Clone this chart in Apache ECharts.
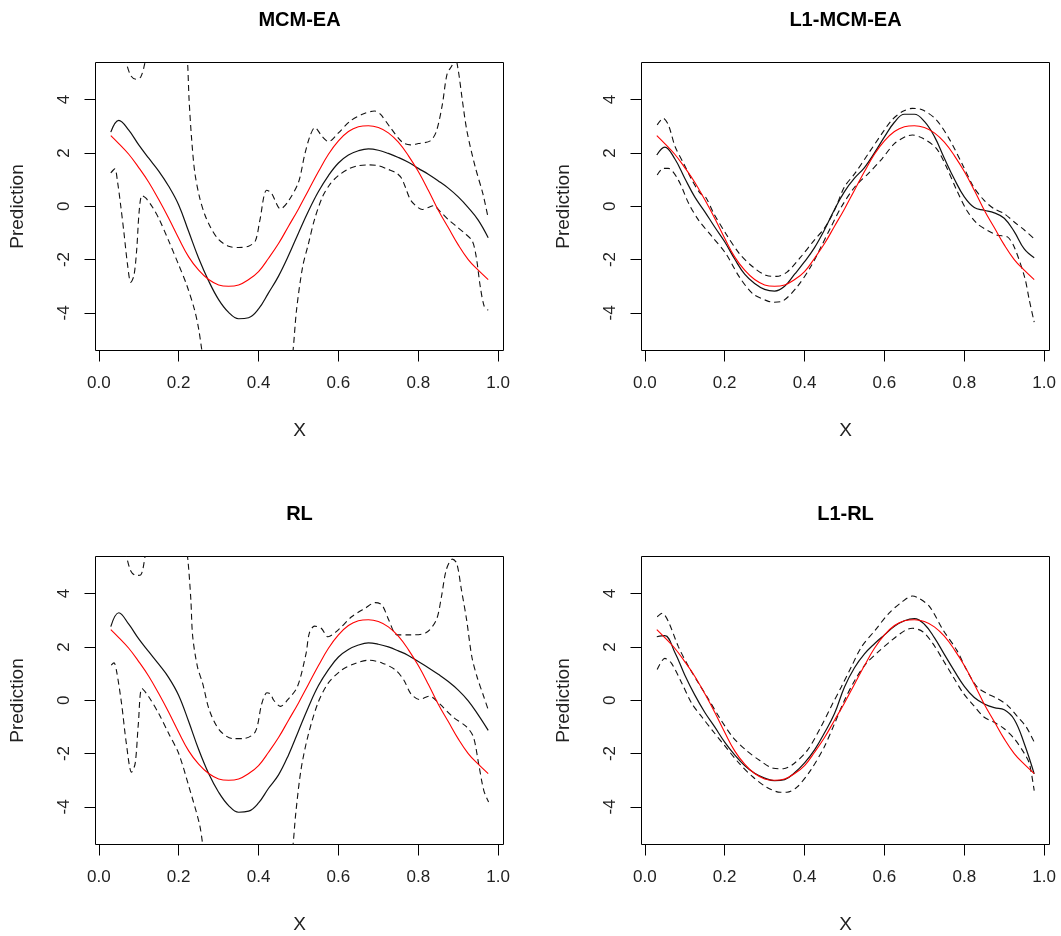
<!DOCTYPE html>
<html><head><meta charset="utf-8">
<script src="https://cdn.jsdelivr.net/npm/echarts@6/dist/echarts.min.js"></script>
<style>html,body{margin:0;padding:0;background:#fff}#c{width:1061px;height:936px}</style>
</head><body><div id="c"></div>
<script>
const panelTitles = ['MCM-EA', 'L1-MCM-EA', 'RL', 'L1-RL'];
const xTicks = [0, 0.2, 0.4, 0.6, 0.8, 1.0];
const yTicks = [-4, -2, 0, 2, 4];
const xGrid = [0.03, 0.05, 0.075, 0.1, 0.125, 0.15, 0.175, 0.2, 0.225, 0.25, 0.275, 0.3, 0.325, 0.35, 0.375, 0.4,
  0.425, 0.45, 0.475, 0.5, 0.525, 0.55, 0.575, 0.6, 0.625, 0.65, 0.675, 0.7, 0.725, 0.75, 0.775, 0.8,
  0.825, 0.85, 0.875, 0.9, 0.925, 0.95, 0.975];

// true function (red)
const truth = [2.65, 2.35, 1.95, 1.45, 0.90, 0.25, -0.45, -1.20, -1.90, -2.40, -2.75, -2.95, -3.00, -2.95, -2.75, -2.45,
  -1.95, -1.40, -0.75, -0.10, 0.60, 1.30, 1.95, 2.45, 2.80, 2.98, 3.02, 2.95, 2.75, 2.40, 1.90, 1.30,
  0.60, -0.15, -0.80, -1.45, -2.00, -2.40, -2.75];

// fitted curves (black solid)
const fitMcmEa = [2.78, 3.22, 2.85, 2.30, 1.80, 1.32, 0.75, 0.05, -0.95, -1.95, -2.80, -3.50, -3.98, -4.22, -4.18, -3.85,
  -3.25, -2.62, -1.85, -1.00, -0.18, 0.55, 1.15, 1.62, 1.92, 2.08, 2.15, 2.10, 1.98, 1.83, 1.65, 1.42,
  1.20, 0.95, 0.68, 0.35, -0.05, -0.52, -1.18];
const fitL1McmEa = [1.92, 2.22, 1.78, 1.05, 0.35, -0.20, -0.78, -1.33, -1.98, -2.55, -2.90, -3.12, -3.18, -3.00, -2.55, -2.08,
  -1.55, -0.88, -0.12, 0.55, 1.05, 1.45, 2.00, 2.60, 3.15, 3.45, 3.45, 3.18, 2.62, 1.80, 1.02, 0.35,
  -0.05, -0.15, -0.25, -0.45, -0.95, -1.60, -1.93];
const fitRl = [2.76, 3.28, 2.85, 2.30, 1.82, 1.35, 0.85, 0.18, -0.80, -1.85, -2.75, -3.45, -3.95, -4.20, -4.16, -3.85,
  -3.30, -2.80, -2.05, -1.15, -0.25, 0.55, 1.15, 1.62, 1.90, 2.07, 2.15, 2.10, 2.00, 1.85, 1.68, 1.45,
  1.22, 0.97, 0.70, 0.38, -0.02, -0.55, -1.13];
const fitL1Rl = [2.38, 2.42, 1.80, 0.95, 0.20, -0.45, -1.00, -1.57, -2.05, -2.45, -2.74, -2.92, -3.02, -2.98, -2.72, -2.35,
  -1.86, -1.22, -0.50, 0.50, 1.22, 1.74, 2.12, 2.45, 2.77, 2.98, 3.06, 2.85, 2.35, 1.72, 1.10, 0.52,
  0.10, -0.14, -0.28, -0.36, -0.72, -1.62, -2.76];

// confidence bands (dashed), [x, y]
const upMcmEa = [[0.03, 7.0], [0.05, 6.2], [0.068, 5.4], [0.08, 4.9], [0.093, 4.76], [0.105, 4.85], [0.115, 5.35], [0.13, 6.5],
  [0.16, 8.0], [0.2, 7.5], [0.22, 5.8], [0.226, 4.0], [0.232, 2.6], [0.24, 1.3], [0.252, 0.35], [0.265, -0.3], [0.28, -0.8],
  [0.3, -1.25], [0.325, -1.5], [0.35, -1.55], [0.375, -1.5], [0.392, -1.3], [0.403, -0.55], [0.42, 0.6], [0.432, 0.5],
  [0.455, -0.1], [0.475, 0.2], [0.5, 0.9], [0.515, 1.9], [0.528, 2.6], [0.541, 2.95], [0.56, 2.6], [0.575, 2.42],
  [0.6, 2.75], [0.63, 3.2], [0.66, 3.45], [0.69, 3.57], [0.705, 3.45], [0.73, 2.95], [0.76, 2.4], [0.78, 2.3],
  [0.8, 2.35], [0.83, 2.45], [0.845, 2.8], [0.86, 3.8], [0.872, 4.95], [0.885, 5.3], [0.892, 5.6], [0.9, 5.1],
  [0.91, 4.0], [0.922, 2.8], [0.942, 1.5], [0.962, 0.45], [0.975, -0.45]];
const loMcmEa = [[0.03, 1.25], [0.04, 1.4], [0.047, 0.9], [0.055, 0.0], [0.063, -1.0], [0.072, -2.2], [0.08, -2.85],
  [0.088, -2.6], [0.095, -1.6], [0.101, -0.2], [0.108, 0.4], [0.118, 0.3], [0.135, -0.05], [0.15, -0.45], [0.175, -1.3],
  [0.2, -2.2], [0.22, -2.95], [0.24, -3.9], [0.25, -4.6], [0.258, -5.4], [0.27, -6.5], [0.3, -8.0], [0.4, -9.0],
  [0.47, -7.0], [0.485, -5.6], [0.495, -3.9], [0.51, -2.3], [0.525, -1.4], [0.54, -0.5], [0.56, 0.35], [0.58, 0.85],
  [0.6, 1.15], [0.625, 1.4], [0.65, 1.52], [0.675, 1.55], [0.7, 1.52], [0.725, 1.38], [0.745, 1.25], [0.758, 1.05],
  [0.768, 0.7], [0.78, 0.25], [0.795, 0.0], [0.81, -0.12], [0.825, -0.05], [0.838, 0.02], [0.855, -0.2],
  [0.875, -0.5], [0.895, -0.75], [0.915, -1.0], [0.935, -1.3], [0.945, -1.9], [0.955, -3.0], [0.965, -3.75], [0.975, -3.9]];

const upL1McmEa = [[0.031, 3.05], [0.046, 3.30], [0.059, 3.05], [0.076, 2.23], [0.097, 1.61], [0.118, 0.98], [0.139, 0.48],
  [0.152, 0.35], [0.173, -0.28], [0.203, -1.03], [0.237, -1.78], [0.271, -2.28], [0.305, -2.60], [0.33, -2.63],
  [0.356, -2.47], [0.39, -1.91], [0.424, -1.28], [0.449, -0.84], [0.475, -0.15], [0.5, 0.73], [0.526, 1.23],
  [0.56, 1.98], [0.594, 2.73], [0.619, 3.24], [0.645, 3.55], [0.67, 3.67], [0.696, 3.61], [0.73, 3.24], [0.764, 2.48],
  [0.798, 1.48], [0.823, 0.73], [0.849, 0.23], [0.874, -0.09], [0.9, -0.28], [0.925, -0.59], [0.951, -0.90], [0.975, -1.22]];
const loL1McmEa = [[0.031, 1.17], [0.046, 1.42], [0.059, 1.42], [0.084, 0.98], [0.11, 0.10], [0.135, -0.53], [0.169, -1.15],
  [0.203, -1.78], [0.237, -2.66], [0.271, -3.29], [0.305, -3.54], [0.322, -3.60], [0.347, -3.54], [0.381, -3.03],
  [0.415, -2.28], [0.441, -1.53], [0.466, -0.78], [0.492, -0.03], [0.526, 0.73], [0.56, 1.23], [0.594, 1.78],
  [0.625, 2.35], [0.653, 2.61], [0.67, 2.67], [0.696, 2.55], [0.73, 2.17], [0.755, 1.48], [0.781, 0.60], [0.806, -0.15],
  [0.832, -0.65], [0.857, -0.90], [0.883, -1.09], [0.908, -1.15], [0.925, -1.53], [0.951, -2.66], [0.963, -3.54], [0.975, -4.35]];

const upRl = [[0.03, 7.0], [0.05, 6.2], [0.068, 5.45], [0.08, 4.85], [0.093, 4.68], [0.105, 4.7], [0.116, 5.4], [0.13, 6.5],
  [0.16, 8.0], [0.2, 7.5], [0.218, 5.8], [0.2235, 5.2], [0.2305, 3.76], [0.235, 2.4], [0.247, 1.25], [0.26, 0.63],
  [0.277, -0.38], [0.3025, -1.13], [0.336, -1.44], [0.362, -1.44], [0.3915, -1.19], [0.408, -0.13], [0.421, 0.28],
  [0.43, 0.23], [0.438, 0.0], [0.455, -0.23], [0.472, 0.0], [0.497, 0.5], [0.519, 1.76], [0.527, 2.51], [0.54, 2.78],
  [0.557, 2.70], [0.574, 2.38], [0.599, 2.63], [0.633, 3.13], [0.667, 3.45], [0.692, 3.66], [0.709, 3.57], [0.726, 3.01],
  [0.747, 2.45], [0.777, 2.45], [0.819, 2.53], [0.845, 3.01], [0.858, 3.89], [0.87, 4.89], [0.885, 5.29], [0.896, 5.14],
  [0.908, 4.14], [0.921, 3.01], [0.934, 1.63], [0.947, 0.88], [0.964, 0.13], [0.976, -0.4]];
const loRl = [[0.031, 1.32], [0.038, 1.4], [0.044, 1.13], [0.057, -0.13], [0.069, -1.63], [0.082, -2.70], [0.091, -2.38],
  [0.099, -0.88], [0.108, 0.44], [0.125, 0.13], [0.15, -0.50], [0.175, -1.25], [0.2, -2.0], [0.226, -3.26], [0.252, -4.64],
  [0.26, -5.4], [0.27, -6.5], [0.3, -8.0], [0.4, -9.0], [0.47, -7.0], [0.485, -5.6], [0.493, -4.26], [0.506, -2.63],
  [0.523, -1.38], [0.548, -0.13], [0.574, 0.63], [0.608, 1.13], [0.642, 1.38], [0.675, 1.50], [0.709, 1.40], [0.743, 1.13],
  [0.764, 0.75], [0.781, 0.25], [0.8025, 0.03], [0.828, 0.15], [0.853, -0.13], [0.887, -0.63], [0.921, -1.0],
  [0.938, -1.38], [0.951, -2.38], [0.964, -3.39], [0.976, -3.82]];

const upL1Rl = [[0.031, 3.13], [0.044, 3.26], [0.059, 2.95], [0.084, 2.01], [0.11, 1.25], [0.135, 0.63], [0.161, 0.0],
  [0.186, -0.63], [0.22, -1.38], [0.254, -1.88], [0.288, -2.26], [0.322, -2.55], [0.347, -2.57], [0.373, -2.38],
  [0.407, -1.88], [0.441, -1.0], [0.466, -0.25], [0.492, 0.50], [0.517, 1.25], [0.543, 2.01], [0.577, 2.63], [0.611, 3.26],
  [0.645, 3.70], [0.67, 3.91], [0.687, 3.82], [0.713, 3.51], [0.747, 2.63], [0.781, 1.88], [0.806, 1.13], [0.832, 0.50],
  [0.857, 0.25], [0.883, 0.06], [0.908, -0.19], [0.934, -0.63], [0.955, -1.0], [0.975, -1.57]];
const loL1Rl = [[0.031, 1.15], [0.05, 1.57], [0.067, 1.38], [0.093, 0.63], [0.118, -0.13], [0.143, -0.63], [0.169, -1.13],
  [0.203, -1.76], [0.237, -2.38], [0.271, -2.88], [0.305, -3.26], [0.339, -3.45], [0.356, -3.45], [0.381, -3.26],
  [0.415, -2.63], [0.449, -1.76], [0.475, -0.88], [0.5, 0.0], [0.526, 0.75], [0.551, 1.32], [0.585, 1.82], [0.619, 2.26],
  [0.653, 2.63], [0.67, 2.70], [0.696, 2.57], [0.721, 2.13], [0.747, 1.50], [0.772, 0.88], [0.798, 0.25], [0.823, -0.19],
  [0.849, -0.63], [0.874, -0.82], [0.9, -1.07], [0.925, -1.44], [0.951, -2.01], [0.963, -2.38], [0.975, -3.39]];

const panels = [
  {title: panelTitles[0], fit: fitMcmEa, up: upMcmEa, lo: loMcmEa},
  {title: panelTitles[1], fit: fitL1McmEa, up: upL1McmEa, lo: loL1McmEa},
  {title: panelTitles[2], fit: fitRl, up: upRl, lo: loRl},
  {title: panelTitles[3], fit: fitL1Rl, up: upL1Rl, lo: loL1Rl}
];

const FONT = "'Liberation Sans', Arial, sans-serif";
const pos = [[95.5, 62.5], [641.5, 62.5], [95.5, 556.5], [641.5, 556.5]];
const GW = 408, GH = 288;

const grids = [], xAxes = [], yAxes = [], titles = [], series = [];
panels.forEach((p, i) => {
  const [L, T] = pos[i];
  grids.push({left: L, top: T, width: GW, height: GH, show: true, borderColor: '#000', borderWidth: 1, backgroundColor: 'transparent', containLabel: false});
  titles.push({text: p.title, left: L + GW / 2, top: T - 52, textAlign: 'center', padding: 0,
    textStyle: {fontFamily: FONT, fontSize: 20, fontWeight: 'bold', color: '#000'}});
  xAxes.push({gridIndex: i, type: 'value', min: -0.0083, max: 1.0133, position: 'bottom',
    axisLine: {show: false, onZero: false}, splitLine: {show: false},
    axisTick: {show: true, inside: false, length: 11, customValues: xTicks, lineStyle: {color: '#000', width: 1}},
    axisLabel: {customValues: xTicks, formatter: v => v.toFixed(1), margin: 24, fontSize: 17, fontFamily: FONT, color: '#222'},
    name: 'X', nameLocation: 'middle', nameGap: 71, nameTextStyle: {fontSize: 19, fontFamily: FONT, color: '#222'}});
  yAxes.push({gridIndex: i, type: 'value', min: -5.41, max: 5.39, position: 'left',
    axisLine: {show: false, onZero: false}, splitLine: {show: false},
    axisTick: {show: true, inside: false, length: 11, customValues: yTicks, lineStyle: {color: '#000', width: 1}},
    axisLabel: {customValues: yTicks, rotate: 90, margin: 23, fontSize: 17, fontFamily: FONT, color: '#222', formatter: v => String(v)},
    name: 'Prediction', nameLocation: 'middle', nameGap: 68, nameTextStyle: {fontSize: 19, fontFamily: FONT, color: '#222'}});
  const dashed = {color: '#111', width: 1.1, type: [6, 4]};
  series.push({type: 'line', xAxisIndex: i, yAxisIndex: i, data: p.up, showSymbol: false, symbol: 'none', smooth: 0.3, lineStyle: dashed, clip: true, silent: true});
  series.push({type: 'line', xAxisIndex: i, yAxisIndex: i, data: p.lo, showSymbol: false, symbol: 'none', smooth: 0.3, lineStyle: dashed, clip: true, silent: true});
  series.push({type: 'line', xAxisIndex: i, yAxisIndex: i, data: xGrid.map((x, k) => [x, p.fit[k]]), symbol: 'none', smooth: 0.4,
    lineStyle: {color: '#111', width: 1.2}, clip: true, silent: true});
  series.push({type: 'line', xAxisIndex: i, yAxisIndex: i, data: xGrid.map((x, k) => [x, truth[k]]), symbol: 'none', smooth: 0.4,
    lineStyle: {color: '#ff0000', width: 1.1}, clip: true, silent: true});
});

const chart = echarts.init(document.getElementById('c'), null, {renderer: 'canvas'});
chart.setOption({
  animation: false,
  backgroundColor: '#fff',
  title: titles,
  grid: grids,
  xAxis: xAxes,
  yAxis: yAxes,
  series: series
});
</script></body></html>
